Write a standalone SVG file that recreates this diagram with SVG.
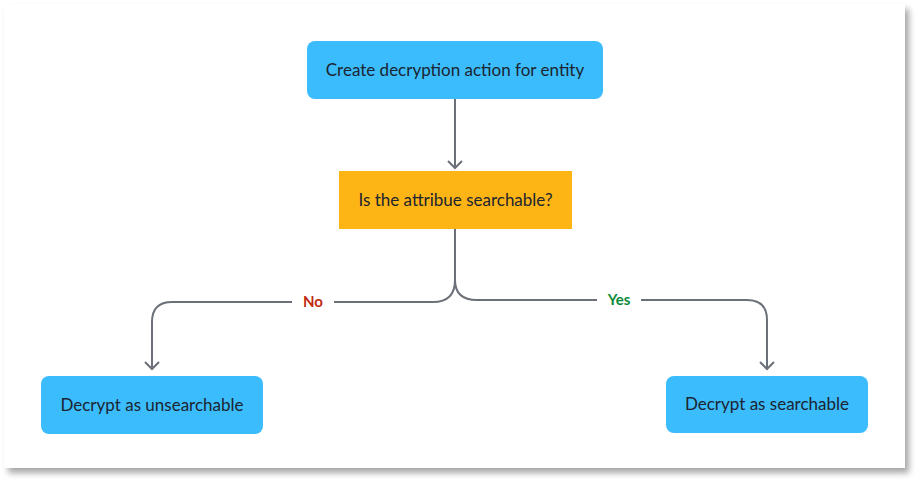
<svg xmlns="http://www.w3.org/2000/svg" width="920" height="484" viewBox="0 0 920 484">
<defs>
<filter id="sh" x="-5%" y="-5%" width="112%" height="115%">
<feGaussianBlur in="SourceAlpha" stdDeviation="3"/>
<feOffset dx="4" dy="5" result="b"/>
<feComponentTransfer><feFuncA type="linear" slope="0.35"/></feComponentTransfer>
<feMerge><feMergeNode/><feMergeNode in="SourceGraphic"/></feMerge>
</filter>
<marker id="arr" markerWidth="12" markerHeight="16" refX="10" refY="8" orient="auto" markerUnits="userSpaceOnUse" viewBox="0 0 12 16">
<path d="M3,1 L10,8 L3,15" fill="none" stroke="#6b7079" stroke-width="2"/>
</marker>
</defs>
<style>
.lbl{font-family:Lato,"Liberation Sans",sans-serif;font-size:17px;fill:#1b2430;text-anchor:middle;dominant-baseline:central}
.blue{fill:#3bbdfd}
.edge{fill:none;stroke:#6b7079;stroke-width:2}
.el{font-family:Lato,"Liberation Sans",sans-serif;font-size:15px;font-weight:bold;text-anchor:middle;dominant-baseline:central}
</style>
<rect x="4" y="4" width="901" height="464" fill="#ffffff" filter="url(#sh)"/>
<g id="connectors">
<path class="edge" d="M455,99 V168" marker-end="url(#arr)"/>
<path class="edge" d="M455,229 V280 Q455,302 433,302 H334 M292,302 H172 Q152,302 152,322 V369" marker-end="url(#arr)"/>
<path class="edge" d="M455,229 V280 Q455,300 477,300 H597 M641,300 H747 Q767,300 767,320 V369" marker-end="url(#arr)"/>
<text class="el" x="313" y="301" fill="#c02a0e">No</text>
<text class="el" x="619" y="299" fill="#0b8a3b">Yes</text>
</g>
<g id="n1">
<rect class="blue" x="307" y="41" width="296" height="58" rx="8"/>
<text class="lbl" x="455" y="69">Create decryption action for entity</text>
</g>
<g id="n2">
<rect x="339" y="171" width="233" height="58" fill="#fdb516"/>
<text class="lbl" x="455.5" y="199">Is the attribue searchable?</text>
</g>
<g id="n3">
<rect class="blue" x="41" y="376" width="222" height="58" rx="8"/>
<text class="lbl" x="152" y="404">Decrypt as unsearchable</text>
</g>
<g id="n4">
<rect class="blue" x="666" y="376" width="202" height="57" rx="8"/>
<text class="lbl" x="767" y="403.5">Decrypt as searchable</text>
</g>
</svg>
